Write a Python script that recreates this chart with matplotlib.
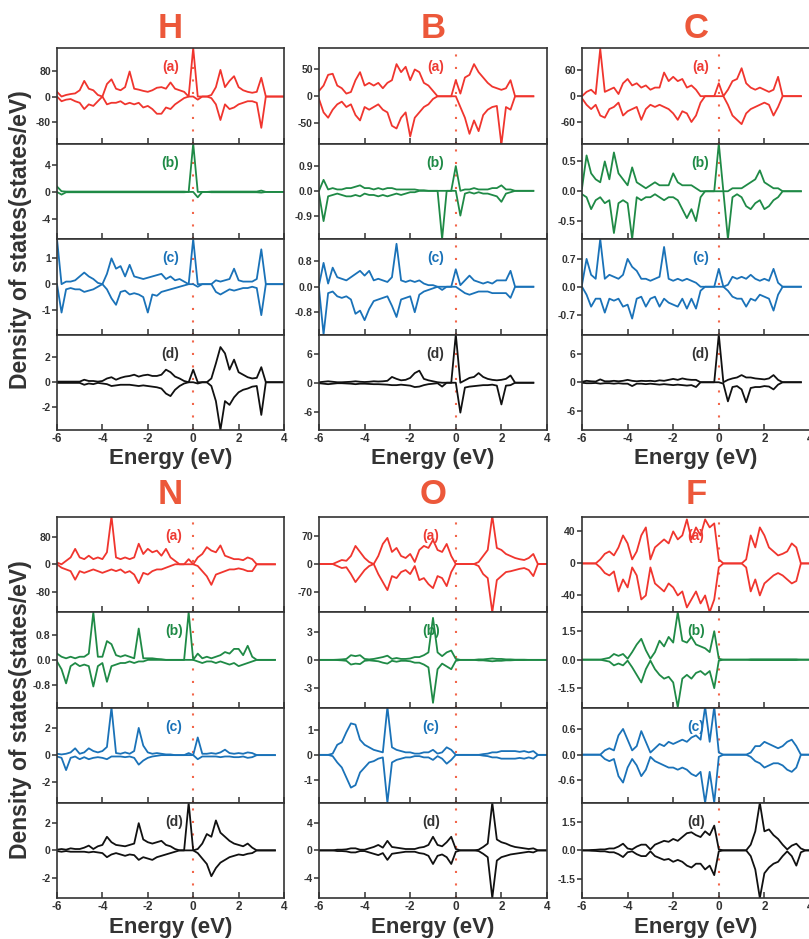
import numpy as np
import matplotlib
matplotlib.use("Agg")
import matplotlib.pyplot as plt

plt.rcParams['font.family'] = ['Liberation Sans', 'DejaVu Sans']
plt.rcParams['font.weight'] = 'bold'
plt.rcParams['axes.unicode_minus'] = False

# energy grid, eV (0.2 eV step, -6 .. 4)
energy = np.round(np.arange(-6.0, 4.01, 0.2), 1)

elements = ["H", "B", "C", "N", "O", "F"]
panel_tags = ["(a)", "(b)", "(c)", "(d)"]

# ---------------- H ----------------
h_a_up = [15, 0, 5, 8, 10, 20, 50, 25, 20, 5,
          0, 40, 55, 25, 20, 30, 80, 25, 22, 18,
          15, 20, 28, 30, 25, 45, 25, 20, 15, 0,
          155, 0, 0, 0, 5, 30, 85, 30, 50, 65,
          30, 20, 15, 12, 15, 60, 0, 0, 0, 0, 0]
h_a_dn = [0, -15, -10, -8, -15, -20, -40, -25, -30, -15,
          0, -25, -20, -20, -15, -25, -20, -25, -20, -35,
          -30, -40, -55, -55, -35, -40, -25, -15, -5, 0,
          0, -10, 0, 0, -5, -25, -75, -25, -40, -35,
          -25, -20, -15, -15, -20, -100, 0, 0, 0, 0, 0]
h_b_up = [0.8, 0.1, 0.05, 0.05, 0.05, 0.05, 0.05, 0.05, 0.05, 0.05,
          0.05, 0.05, 0.05, 0.05, 0.05, 0.05, 0.05, 0.05, 0.05, 0.05,
          0.05, 0.05, 0.05, 0.05, 0.05, 0.05, 0.05, 0.05, 0.05, 0,
          7.2, 0, 0, 0, 0.05, 0.05, 0.05, 0.05, 0.05, 0.05,
          0.05, 0.05, 0.05, 0.05, 0.05, 0.2, 0, 0, 0, 0, 0]
h_b_dn = [0, -0.4, -0.05, -0.05, -0.05, -0.05, -0.05, -0.05, -0.05, -0.05,
          -0.05, -0.05, -0.05, -0.05, -0.05, -0.05, -0.05, -0.05, -0.05, -0.05,
          -0.05, -0.05, -0.05, -0.05, -0.05, -0.05, -0.05, -0.05, -0.05, 0,
          0, -0.8, 0, 0, -0.05, -0.05, -0.05, -0.05, -0.05, -0.05,
          -0.05, -0.05, -0.05, -0.05, -0.05, -0.1, 0, 0, 0, 0, 0]
h_c_up = [1.75, 0, 0.1, 0.1, 0.15, 0.3, 0.45, 0.3, 0.2, 0.05,
          0, 0.4, 1.0, 0.6, 0.7, 0.3, 0.75, 0.3, 0.25, 0.2,
          0.25, 0.3, 0.35, 0.4, 0.2, 0.3, 0.15, 0.2, 0.1, 0,
          1.75, 0, 0, 0, 0, 0.15, 0.1, 0.15, 0.2, 0.6,
          0.15, 0.1, 0.1, 0.1, 0.2, 1.35, 0, 0, 0, 0, 0]
h_c_dn = [0, -1.1, -0.2, -0.15, -0.2, -0.2, -0.3, -0.25, -0.2, -0.1,
          0, -0.2, -0.55, -0.8, -0.3, -0.25, -0.4, -0.35, -0.4, -0.5,
          -1.1, -0.4, -0.45, -0.3, -0.25, -0.2, -0.15, -0.1, -0.05, 0,
          0, -0.1, 0, 0, 0, -0.3, -0.4, -0.3, -0.2, -0.25,
          -0.2, -0.15, -0.15, -0.1, -0.15, -1.2, 0, 0, 0, 0, 0]
h_d_up = [0.05, 0.05, 0.05, 0.05, 0.05, 0.05, 0.2, 0.1, 0.1, 0.05,
          0.1, 0.3, 0.4, 0.2, 0.35, 0.45, 0.5, 0.6, 0.45, 0.55,
          0.6, 0.5, 0.5, 0.6, 1.0, 0.8, 0.45, 0.3, 0.1, 0,
          1.0, 0, 0, 0, 0.3, 1.5, 2.8, 2.3, 1.0, 1.8,
          0.8, 0.6, 0.4, 0.3, 0.35, 1.2, 0, 0, 0, 0, 0]
h_d_dn = [-0.05, -0.05, -0.05, -0.05, -0.05, -0.05, -0.2, -0.1, -0.15, -0.05,
          -0.1, -0.15, -0.3, -0.25, -0.2, -0.2, -0.2, -0.25, -0.3, -0.25,
          -0.3, -0.35, -0.4, -0.5, -0.9, -1.1, -0.6, -0.3, -0.1, 0,
          0, -0.1, 0, 0, -0.3, -1.5, -3.8, -1.5, -1.8, -1.2,
          -0.8, -0.6, -0.5, -0.35, -0.3, -2.6, 0, 0, 0, 0, 0]

# ---------------- B ----------------
b_a_up = [10, 20, 40, 42, 20, 15, 5, 8, 30, 45,
          20, 25, 20, 25, 15, 25, 30, 60, 45, 55,
          30, 50, 45, 25, 20, 10, 0, 0, 0, 0,
          30, 5, 35, 40, 60, 45, 35, 25, 18, 15,
          12, 15, 30, 0, 0, 0, 0, 0]
b_a_dn = [-5, -30, -40, -25, -15, -10, -20, -15, -35, -45,
          -20, -25, -20, -15, -25, -30, -55, -60, -40, -30,
          -75, -40, -30, -20, -15, -5, 0, 0, 0, 0,
          0, -20, -40, -70, -45, -65, -35, -25, -20, -18,
          -90, -20, -25, 0, 0, 0, 0, 0]
b_b_up = [0, 0.4, 0.05, 0.1, 0.05, 0.05, 0.1, 0.1, 0.15, 0.2,
          0.1, 0.1, 0.05, 0.1, 0.05, 0.1, 0.1, 0.05, 0.05, 0.05,
          0.05, 0.05, 0.02, 0.02, 0, 0, 0, 0, 0, 0,
          0.9, 0, 0.05, 0.05, 0.1, 0.05, 0.05, 0.05, 0.1, 0.1,
          0.2, 0.05, 0.05, 0, 0, 0, 0, 0]
b_b_dn = [-0.1, -1.1, -0.2, -0.15, -0.1, -0.15, -0.2, -0.2, -0.15, -0.2,
          -0.1, -0.15, -0.15, -0.2, -0.15, -0.2, -0.15, -0.1, -0.15, -0.1,
          -0.05, -0.05, 0, 0, 0, 0, 0, -1.75, 0, 0,
          0, -0.9, -0.1, -0.05, -0.1, -0.05, -0.1, -0.1, -0.15, -0.2,
          -0.4, -0.1, -0.05, 0, 0, 0, 0, 0]
b_c_up = [0.05, 0.75, 0.1, 0.6, 0.3, 0.25, 0.2, 0.3, 0.4, 0.5,
          0.35, 0.5, 0.2, 0.25, 0.2, 0.15, 0.3, 1.35, 0.2, 0.15,
          0.2, 0.15, 0.2, 0.1, 0.05, 0.05, 0, 0, 0, 0,
          0.55, 0.05, 0.2, 0.35, 0.2, 0.15, 0.1, 0.15, 0.1, 0.2,
          0.2, 0.2, 0.5, 0, 0, 0, 0, 0]
b_c_dn = [-0.05, -1.5, -0.2, -0.15, -0.3, -0.35, -0.3, -0.4, -0.85, -0.75,
          -1.05, -0.7, -0.45, -0.4, -0.35, -0.3, -0.6, -0.95, -0.4, -0.35,
          -0.3, -0.8, -0.25, -0.15, -0.1, -0.05, 0, -0.1, 0, 0,
          0, -0.1, -0.2, -0.25, -0.2, -0.15, -0.15, -0.15, -0.2, -0.2,
          -0.2, -0.2, -0.35, 0, 0, 0, 0, 0]
b_d_up = [0.1, 0.2, 0.3, 0.2, 0.1, 0.1, 0.15, 0.2, 0.3, 0.2,
          0.15, 0.2, 0.3, 0.25, 0.3, 0.4, 1.2, 0.8, 0.5, 0.6,
          1.0, 2.0, 2.5, 0.8, 0.5, 0.3, 0.1, 0, 0, 0,
          10, 0, 0.5, 1.0, 1.2, 2.0, 1.2, 0.8, 0.6, 0.5,
          0.6, 0.8, 1.5, 0, 0, 0, 0, 0]
b_d_dn = [-0.1, -0.2, -0.3, -0.2, -0.1, -0.1, -0.15, -0.2, -0.3, -0.2,
          -0.2, -0.25, -0.3, -0.3, -0.35, -0.4, -0.5, -0.5, -0.4, -0.5,
          -0.6, -0.9, -0.8, -0.5, -0.3, -0.2, -0.1, -0.8, 0, 0,
          0, -6.2, -1.0, -0.8, -0.7, -0.6, -0.5, -0.5, -0.4, -0.6,
          -4.5, -0.6, -0.5, 0, 0, 0, 0, 0]

# ---------------- C ----------------
c_a_up = [0, 10, 15, 5, 110, 10, 15, 20, 5, 30,
          40, 25, 30, 20, 25, 15, 20, 20, 55, 35,
          45, 35, 40, 20, 25, 15, 0, 0, 0, 0,
          30, 0, 15, 35, 40, 65, 30, 20, 15, 20,
          15, 10, 15, 45, 0, 0, 0, 0, 0]
c_a_dn = [-5, -20, -30, -20, -45, -50, -30, -25, -15, -45,
          -35, -30, -25, -55, -30, -20, -25, -20, -25, -30,
          -40, -55, -35, -40, -60, -45, -15, 0, 0, 0,
          0, 0, -20, -45, -55, -65, -40, -30, -25, -20,
          -15, -20, -45, -25, 0, 0, 0, 0, 0]
c_b_up = [0.05, 0.6, 0.3, 0.2, 0.15, 0.5, 0.2, 0.65, 0.3, 0.2,
          0.1, 0.4, 0.15, 0.1, 0.05, 0.1, 0.15, 0.1, 0.1, 0.1,
          0.3, 0.15, 0.1, 0.1, 0.1, 0.05, 0, 0, 0, 0,
          0.8, 0, 0, 0.05, 0.05, 0.05, 0.1, 0.15, 0.2, 0.35,
          0.15, 0.1, 0.05, 0.05, 0, 0, 0, 0, 0]
c_b_dn = [-0.05, -0.1, -0.3, -0.15, -0.1, -0.2, -0.15, -0.7, -0.2, -0.15,
          -0.2, -0.8, -0.1, -0.15, -0.1, -0.1, -0.05, -0.1, -0.15, -0.1,
          -0.1, -0.15, -0.3, -0.45, -0.3, -0.5, -0.1, 0, 0, 0,
          0, 0, -0.8, -0.1, -0.05, -0.1, -0.25, -0.3, -0.2, -0.15,
          -0.3, -0.25, -0.15, -0.1, 0, 0, 0, 0, 0]
c_c_up = [0.05, 0.7, 0.3, 0.2, 1.2, 0.2, 0.3, 0.25, 0.2, 0.3,
          0.7, 0.5, 0.4, 0.2, 0.2, 0.15, 0.2, 0.25, 1.0, 0.2,
          0.15, 0.2, 0.15, 0.2, 0.15, 0.1, 0, 0, 0, 0,
          0.45, 0, 0.05, 0.25, 0.2, 0.25, 0.2, 0.3, 0.2, 0.15,
          0.2, 0.15, 0.45, 0.1, 0, 0, 0, 0, 0]
c_c_dn = [0, -0.2, -0.5, -0.3, -0.3, -0.65, -0.3, -0.35, -0.3, -0.5,
          -0.45, -0.8, -0.3, -0.25, -0.5, -0.3, -0.25, -0.5, -0.3, -0.4,
          -0.45, -0.5, -0.3, -0.55, -0.3, -0.55, -0.1, 0, 0, 0,
          0, 0, -0.1, -0.25, -0.3, -0.3, -0.5, -0.3, -0.35, -0.2,
          -0.25, -0.3, -0.6, -0.2, 0, 0, 0, 0, 0]
c_d_up = [0.1, 0.3, 0.2, 0.15, 0.6, 0.2, 0.2, 0.3, 0.2, 0.3,
          0.5, 0.3, 0.2, 0.3, 0.25, 0.3, 0.2, 0.4, 0.3, 0.5,
          0.7, 0.5, 0.8, 0.6, 0.5, 0.5, 0, 0, 0, 0,
          10, 0, 0.5, 0.8, 1.0, 1.5, 1.0, 1.0, 0.8, 0.7,
          0.6, 0.8, 1.5, 0.5, 0, 0, 0, 0, 0]
c_d_dn = [-0.1, -0.2, -0.2, -0.15, -0.3, -0.2, -0.2, -0.3, -0.2, -0.3,
          -0.3, -0.8, -0.3, -0.3, -0.4, -0.3, -0.4, -0.5, -0.4, -0.5,
          -0.6, -0.5, -0.6, -0.7, -0.6, -1.0, 0, 0, 0, 0,
          0, -0.3, -4.0, -1.0, -0.8, -1.5, -4.2, -1.2, -1.0, -1.0,
          -0.8, -0.9, -1.5, -0.5, 0, 0, 0, 0, 0]

# ---------------- N ----------------
n_a_up = [5, 0, 10, 20, 45, 20, 15, 25, 15, 20,
          15, 35, 140, 20, 15, 20, 15, 20, 60, 30,
          45, 35, 40, 25, 45, 20, 10, 0, 0, 15,
          0, 20, 30, 50, 40, 35, 55, 25, 20, 15,
          15, 12, 20, 15, 0, 0, 0, 0, 0]
n_a_dn = [0, -10, -15, -20, -45, -20, -25, -20, -15, -20,
          -25, -20, -15, -20, -15, -25, -20, -30, -55, -25,
          -30, -20, -15, -15, -10, -5, 0, 0, 0, 0,
          0, -5, -20, -35, -60, -30, -25, -20, -15, -15,
          -12, -15, -20, -20, 0, 0, 0, 0, 0]
n_b_up = [0.2, 0.1, 0.05, 0.1, 0.05, 0.1, 0.1, 0.2, 1.52, 0.1,
          0.1, 0.6, 0.5, 0.15, 0.1, 0.15, 0.1, 0.05, 1.0, 0.05,
          0.05, 0.05, 0.03, 0.02, 0, 0, 0, 0, 0, 1.52,
          0, 0.2, 0.05, 0.1, 0.05, 0.1, 0.15, 0.25, 0.2, 0.35,
          0.35, 0.15, 0.45, 0.1, 0, 0, 0, 0, 0]
n_b_dn = [-0.05, -0.3, -0.75, -0.2, -0.1, -0.2, -0.15, -0.2, -0.85, -0.2,
          -0.1, -0.7, -0.2, -0.15, -0.1, -0.1, -0.05, -0.1, -0.05, -0.05,
          0, 0, 0, 0, 0, 0, 0, 0, 0, 0,
          0, -0.05, -0.1, -0.05, -0.05, -0.1, -0.05, -0.1, -0.15, -0.1,
          -0.2, -0.15, -0.1, -0.05, 0, 0, 0, 0, 0]
n_c_up = [0.1, 0.05, 0.1, 0.2, 0.5, 0.1, 0.2, 0.5, 0.3, 0.2,
          0.3, 0.6, 3.5, 0.15, 0.1, 0.2, 0.1, 0.3, 2.0, 0.7,
          0.2, 0.1, 0.15, 0.1, 0.05, 0.05, 0, 0, 0, 0.15,
          0, 1.3, 0.1, 0.1, 0.15, 0.1, 0.2, 0.4, 0.15, 0.1,
          0.15, 0.1, 0.2, 0.15, 0, 0, 0, 0, 0]
n_c_dn = [-0.1, -0.2, -1.1, -0.2, -0.1, -0.3, -0.15, -0.3, -0.2, -0.15,
          -0.2, -0.3, -0.1, -0.1, -0.1, -0.15, -0.1, -0.2, -0.7, -0.4,
          -0.2, -0.1, -0.05, 0, 0, 0, 0, 0, 0, 0,
          0, -0.3, -0.1, -0.1, -0.1, -0.1, -0.15, -0.1, -0.1, -0.15,
          -0.15, -0.1, -0.2, -0.15, 0, 0, 0, 0, 0]
n_d_up = [0.05, 0.1, 0.05, 0.15, 0.1, 0.1, 0.2, 0.35, 0.1, 0.3,
          0.4, 1.0, 0.6, 0.4, 0.35, 0.3, 0.4, 0.5, 2.0, 0.8,
          0.6, 0.5, 0.6, 0.7, 0.4, 0.3, 0.1, 0, 0, 3.5,
          0, 0.1, 0.5, 1.2, 1.0, 2.2, 1.3, 1.0, 0.7, 0.5,
          0.4, 0.3, 0.5, 0.2, 0, 0, 0, 0, 0]
n_d_dn = [-0.05, -0.1, -0.05, -0.1, -0.1, -0.1, -0.1, -0.15, -0.1, -0.15,
          -0.2, -0.5, -0.3, -0.2, -0.3, -0.4, -0.3, -0.35, -0.7, -0.5,
          -0.6, -0.7, -0.5, -0.4, -0.3, -0.2, -0.1, 0, 0, 0,
          0, -0.2, -0.6, -1.0, -1.9, -1.3, -0.9, -0.7, -0.5, -0.4,
          -0.3, -0.35, -0.25, -0.2, 0, 0, 0, 0, 0]

# ---------------- O ----------------
o_a_up = [0, 0, 0, 0, 5, 10, 8, 20, 45, 30,
          15, 5, 0, 20, 50, 65, 30, 40, 20, 15,
          25, 5, 35, 45, 40, 60, 35, 30, 50, 20,
          0, 0, 0, 0, 0, 5, 20, 35, 120, 40,
          35, 25, 20, 15, 12, 10, 15, 25, 0, 0, 0]
o_a_dn = [0, 0, 0, 0, -5, -10, -8, -25, -45, -30,
          -15, -5, 0, -25, -45, -65, -30, -35, -20, -15,
          -25, -5, -40, -35, -50, -60, -30, -35, -55, -20,
          0, 0, 0, 0, 0, -5, -25, -35, -120, -40,
          -30, -20, -18, -15, -12, -10, -15, -30, 0, 0, 0]
o_b_up = [0, 0, 0, 0, 0.02, 0.05, 0.1, 0.5, 0.4, 0.5,
          0.1, 0.05, 0.1, 0.2, 0.3, 0.45, 0.1, 0.2, 0.1, 0.1,
          0.15, 0.3, 0.3, 0.5, 0.8, 4.5, 0.8, 0.4, 0.8, 1.0,
          0.1, 0, 0, 0, 0, 0.05, 0.05, 0.1, 0.15, 0.1,
          0.1, 0.05, 0.05, 0.02, 0.02, 0.02, 0, 0, 0, 0, 0]
o_b_dn = [0, 0, 0, 0, -0.02, -0.05, -0.1, -0.5, -0.4, -0.45,
          -0.1, -0.05, -0.1, -0.15, -0.3, -0.4, -0.1, -0.2, -0.1, -0.1,
          -0.15, -0.3, -0.3, -0.5, -0.8, -4.6, -1.0, -0.4, -0.7, -1.0,
          -0.1, 0, 0, 0, 0, -0.05, -0.05, -0.1, -0.15, -0.1,
          -0.1, -0.05, -0.05, -0.02, -0.02, -0.02, 0, 0, 0, 0, 0]
o_c_up = [0, 0, 0, 0.05, 0.4, 0.5, 0.9, 1.25, 1.2, 0.6,
          0.4, 0.3, 0.2, 0.15, 0.1, 1.9, 0.3, 0.2, 0.15, 0.1,
          0.1, 0.05, 0.05, 0.1, 0.1, 0.2, 0.05, 0.1, 0.3, 0.2,
          0, 0, 0, 0, 0, 0, 0.03, 0.05, 0.1, 0.1,
          0.15, 0.15, 0.15, 0.15, 0.12, 0.15, 0.1, 0.15, 0, 0, 0]
o_c_dn = [0, 0, 0, -0.05, -0.3, -0.5, -0.9, -1.3, -1.2, -0.7,
          -0.5, -0.3, -0.25, -0.15, -0.1, -1.9, -0.3, -0.2, -0.15, -0.1,
          -0.1, -0.05, -0.05, -0.1, -0.1, -0.2, -0.05, -0.15, -0.35, -0.2,
          0, 0, 0, 0, 0, 0, -0.03, -0.05, -0.1, -0.1,
          -0.15, -0.15, -0.15, -0.15, -0.12, -0.15, -0.1, -0.15, 0, 0, 0]
o_d_up = [0, 0, 0, 0, 0.1, 0.1, 0.15, 0.3, 0.3, 0.1,
          0.1, 0.3, 0.5, 0.8, 0.4, 1.4, 0.5, 0.4, 0.3, 0.2,
          0.2, 0.2, 0.4, 0.5, 0.8, 2.0, 0.8, 0.6, 1.2, 2.0,
          0.2, 0, 0, 0, 0, 0.1, 0.5, 1.0, 7.0, 1.6,
          1.2, 1.0, 0.7, 0.5, 0.4, 0.3, 0.2, 0.3, 0, 0, 0]
o_d_dn = [0, 0, 0, 0, -0.1, -0.1, -0.15, -0.3, -0.3, -0.1,
          -0.1, -0.3, -0.5, -0.7, -0.4, -1.4, -0.5, -0.4, -0.3, -0.2,
          -0.2, -0.2, -0.4, -0.5, -0.8, -2.0, -0.8, -0.6, -1.0, -2.0,
          -0.2, 0, 0, 0, 0, -0.1, -0.5, -1.0, -7.0, -1.5,
          -1.0, -0.8, -0.6, -0.5, -0.4, -0.3, -0.2, -0.3, 0, 0, 0]

# ---------------- F ----------------
f_a_up = [0, 0, 0, 0, 5, 12, 15, 10, 20, 35,
          25, 5, 15, 35, 45, 5, 20, 25, 30, 25,
          40, 30, 35, 55, 30, 45, 35, 55, 45, 50,
          5, 0, 0, 0, 0, 0, 5, 35, 20, 45,
          35, 20, 15, 10, 12, 15, 25, 20, 0, 0, 0]
f_a_dn = [0, 0, 0, 0, -5, -12, -15, -10, -35, -20,
          -30, -5, -15, -45, -40, -5, -25, -30, -35, -25,
          -30, -40, -35, -55, -45, -35, -50, -40, -61, -45,
          -5, 0, 0, 0, 0, 0, -5, -35, -20, -40,
          -25, -20, -15, -12, -15, -20, -25, -22, 0, 0, 0]
f_b_up = [0, 0, 0, 0, 0, 0.05, 0.1, 0.3, 0.2, 0.3,
          0.05, 0.4, 0.8, 1.1, 0.5, 0.05, 0.4, 1.0, 0.7, 1.2,
          0.9, 2.5, 1.0, 0.9, 1.2, 0.8, 0.7, 0.6, 0.4, 1.5,
          0.05, 0, 0, 0, 0, 0, 0, 0.02, 0.02, 0.02,
          0.02, 0.02, 0.02, 0.02, 0.02, 0.02, 0.02, 0.02, 0, 0, 0]
f_b_dn = [0, 0, 0, 0, 0, -0.05, -0.1, -0.3, -0.2, -0.3,
          -0.05, -0.4, -0.8, -1.2, -0.5, -0.05, -0.5, -0.8, -1.0, -0.9,
          -1.2, -2.5, -1.0, -0.8, -1.0, -0.7, -0.6, -0.8, -0.6, -1.5,
          -0.05, 0, 0, 0, 0, 0, 0, -0.02, -0.02, -0.02,
          -0.02, -0.02, -0.02, -0.02, -0.02, -0.02, -0.02, -0.02, 0, 0, 0]
f_c_up = [0, 0, 0, 0, 0, 0.1, 0.15, 0.1, 0.45, 0.6,
          0.35, 0.1, 0.2, 0.55, 0.3, 0.05, 0.15, 0.25, 0.2, 0.3,
          0.25, 0.3, 0.35, 0.3, 0.4, 0.45, 0.35, 1.12, 0.3, 1.12,
          0.05, 0, 0, 0, 0, 0, 0, 0.05, 0.2, 0.2,
          0.3, 0.25, 0.2, 0.15, 0.2, 0.3, 0.35, 0.2, 0, 0, 0]
f_c_dn = [0, 0, 0, 0, 0, -0.1, -0.15, -0.1, -0.5, -0.65,
          -0.3, -0.1, -0.25, -0.5, -0.35, -0.05, -0.15, -0.2, -0.25, -0.3,
          -0.3, -0.35, -0.3, -0.35, -0.45, -0.5, -0.4, -1.12, -0.4, -1.12,
          -0.05, 0, 0, 0, 0, 0, 0, -0.05, -0.15, -0.2,
          -0.3, -0.25, -0.2, -0.2, -0.25, -0.35, -0.4, -0.3, 0, 0, 0]
f_d_up = [0, 0, 0.02, 0.03, 0.05, 0.05, 0.1, 0.1, 0.2, 0.35,
          0.1, 0.05, 0.2, 0.3, 0.3, 0.05, 0.3, 0.4, 0.5, 0.45,
          0.6, 0.5, 0.7, 0.9, 0.95, 0.8, 0.7, 1.0, 0.8, 1.3,
          0.05, 0, 0, 0, 0, 0, 0, 0.3, 1.0, 2.5,
          1.0, 1.1, 0.8, 0.6, 0.3, 0.05, 0.25, 0.35, 0.1, 0, 0]
f_d_dn = [0, 0, -0.02, -0.03, -0.05, -0.05, -0.1, -0.1, -0.2, -0.35,
          -0.1, -0.05, -0.2, -0.3, -0.3, -0.05, -0.3, -0.4, -0.5, -0.45,
          -0.6, -0.5, -0.6, -0.8, -0.9, -0.7, -0.7, -1.0, -0.8, -1.3,
          -0.05, 0, 0, 0, 0, 0, 0, -0.3, -1.0, -2.5,
          -1.2, -0.9, -0.7, -0.6, -0.3, -0.05, -0.3, -0.8, -0.1, 0, 0]

# y ranges and ticks per panel (a)..(d)
y_lims = {
    "H": [(-150, 155), (-7, 7.2), (-1.95, 1.75), (-3.8, 3.8)],
    "B": [(-88, 90), (-1.75, 1.72), (-1.5, 1.5), (-9.8, 10)],
    "C": [(-110, 112), (-0.8, 0.8), (-1.2, 1.2), (-10, 10)],
    "N": [(-140, 138), (-1.52, 1.52), (-3.5, 3.5), (-3.5, 3.5)],
    "O": [(-120, 117), (-5.1, 5.1), (-1.9, 1.88), (-7, 7)],
    "F": [(-61, 58), (-2.52, 2.5), (-1.12, 1.1), (-2.5, 2.5)],
}
y_ticks = {
    "H": [80, 4, 1, 2], "B": [50, 0.9, 0.8, 6], "C": [60, 0.5, 0.7, 6],
    "N": [80, 0.8, 2, 2], "O": [70, 3, 1, 4], "F": [40, 1.5, 0.6, 1.5],
}

dos = {
    "H": [(h_a_up, h_a_dn), (h_b_up, h_b_dn), (h_c_up, h_c_dn), (h_d_up, h_d_dn)],
    "B": [(b_a_up, b_a_dn), (b_b_up, b_b_dn), (b_c_up, b_c_dn), (b_d_up, b_d_dn)],
    "C": [(c_a_up, c_a_dn), (c_b_up, c_b_dn), (c_c_up, c_c_dn), (c_d_up, c_d_dn)],
    "N": [(n_a_up, n_a_dn), (n_b_up, n_b_dn), (n_c_up, n_c_dn), (n_d_up, n_d_dn)],
    "O": [(o_a_up, o_a_dn), (o_b_up, o_b_dn), (o_c_up, o_c_dn), (o_d_up, o_d_dn)],
    "F": [(f_a_up, f_a_dn), (f_b_up, f_b_dn), (f_c_up, f_c_dn), (f_d_up, f_d_dn)],
}

line_cols = ["#f0352e", "#1f8a46", "#1a72b8", "#111111"]
tag_cols = ["#ee3b34", "#1f8a46", "#1a72b8", "#333333"]
title_col = "#ec583a"
tag_x = {"H": -1.0, "B": -0.9, "C": -0.8, "N": -0.85, "O": -1.1, "F": -1.0}

W, H = 809, 939
fig = plt.figure(figsize=(W / 100, H / 100), dpi=100)

col_left = [57, 319, 582]
col_w = [227, 228, 228]
row_top = [48, 517]
sub_h = [95.5, 95.25]
title_y = [29, 495]
xlab_y = [464, 933]
ylab_y = [240, 710]

for k, el in enumerate(elements):
    r, c = k // 3, k % 3
    left, w = col_left[c], col_w[c]
    for j in range(4):
        top = row_top[r] + j * sub_h[r]
        ax = fig.add_axes([left / W, 1 - (top + sub_h[r]) / H, w / W, sub_h[r] / H])
        up, dn = dos[el][j]
        ax.axvline(0, color="#f2664a", lw=1.5, ls=(0, (1, 5)), zorder=1)
        ax.plot(energy[:len(up)], up, color=line_cols[j], lw=1.3, zorder=2)
        ax.plot(energy[:len(dn)], dn, color=line_cols[j], lw=1.3, zorder=2)
        ax.set_xlim(-6, 4)
        ax.set_ylim(*y_lims[el][j])
        t = y_ticks[el][j]
        ax.set_yticks([-t, 0, t])
        if float(t).is_integer():
            ax.set_yticklabels(["-%d" % t, "0", "%d" % t])
        else:
            ax.set_yticklabels(["-%.1f" % t, "0.0", "%.1f" % t])
        ax.set_xticks([-6, -4, -2, 0, 2, 4])
        ax.tick_params(axis="x", direction="in", length=4, width=1.1,
                       labelsize=8.5, pad=2, colors="#333333")
        ax.tick_params(axis="y", direction="out", length=3.5, width=1.1,
                       labelsize=7.5, pad=1, colors="#333333")
        if j < 3:
            ax.tick_params(axis="x", labelbottom=False)
        for s in ax.spines.values():
            s.set_linewidth(1.2)
            s.set_color("#333333")
        ax.text(tag_x[el], 0.8, panel_tags[j], transform=ax.get_xaxis_transform(),
                ha="center", va="center", fontsize=10, fontweight="bold",
                color=tag_cols[j], zorder=3)
    fig.text((left + w / 2) / W, 1 - title_y[r] / H, el, ha="center", va="center",
             fontsize=25, fontweight="bold", color=title_col)
    fig.text((left + w / 2) / W, 1 - xlab_y[r] / H, "Energy (eV)", ha="center",
             va="baseline", fontsize=16, fontweight="bold", color="#333333")

for r in range(2):
    fig.text(21 / W, 1 - ylab_y[r] / H, "Density of states(states/eV)", rotation=90,
             ha="center", va="center", fontsize=16.5, fontweight="bold", color="#333333")

fig.savefig("out.png", dpi=100)
